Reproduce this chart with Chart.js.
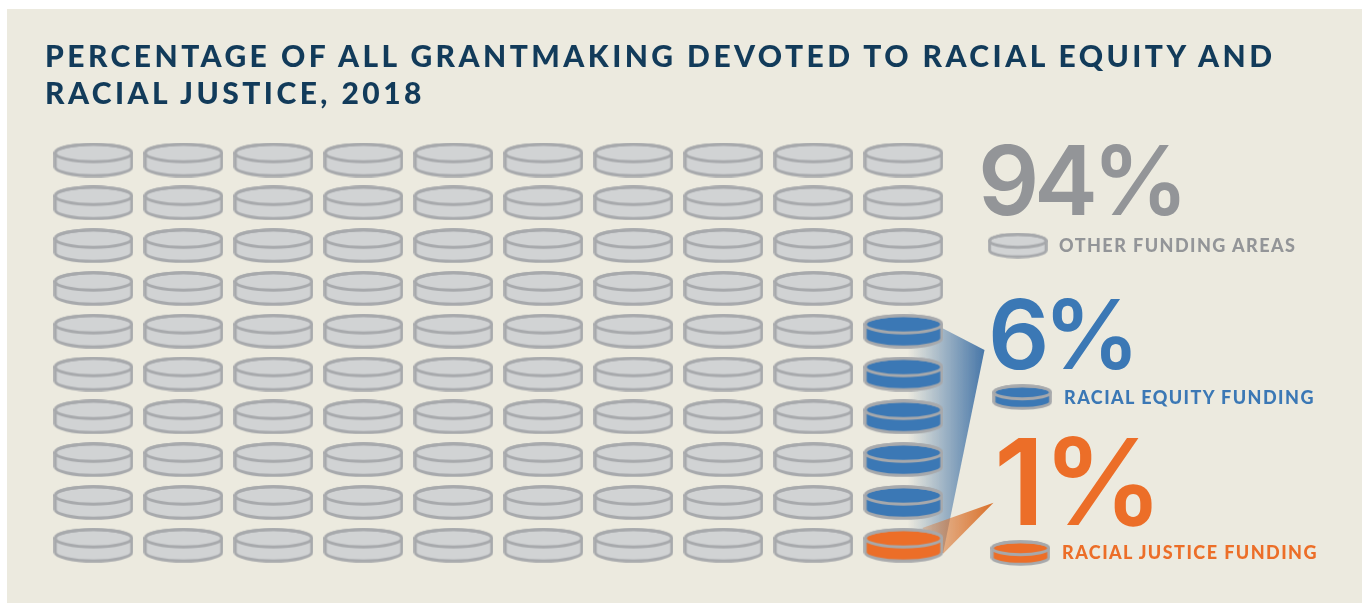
<!DOCTYPE html>
<html>
<head>
<meta charset="utf-8">
<style>
  html, body { margin: 0; padding: 0; background: #fff; overflow: hidden; }
  #page { position: relative; width: 1369px; height: 604px; font-family: Lato, sans-serif; }
  #panel { position: absolute; left: 7px; top: 9px; width: 1355px; height: 594px; background: #eceadf; }
  canvas { position: absolute; left: 0; top: 0; }
  .t { position: absolute; white-space: nowrap; line-height: 1; }
  #title { left: 45px; top: 37px; font-size: 30px; font-weight: 900; letter-spacing: 3.46px; line-height: 37px; color: #123b5a; white-space: normal; width: 1290px; }
</style>
</head>
<body>
<div id="page">
  <div id="panel"></div>
  <canvas id="chart" width="1369" height="604"></canvas>
  <div id="title" class="t">PERCENTAGE OF ALL GRANTMAKING DEVOTED TO RACIAL EQUITY AND RACIAL JUSTICE, 2018</div>
</div>
<script src="https://cdn.jsdelivr.net/npm/chart.js@4"></script>
<script>
// data
const categories = ['OTHER FUNDING AREAS', 'RACIAL EQUITY FUNDING', 'RACIAL JUSTICE FUNDING'];
const percentLabels = ['94%', '6%', '1%'];
const coinCounts = [94, 5, 1];
const columns = [1, 2, 3, 4, 5, 6, 7, 8, 9, 10];
const rows = [1, 2, 3, 4, 5, 6, 7, 8, 9, 10];

const colors = ['#d1d3d4', '#3b78b5', '#ec6e28'];
const textColors = ['#939598', '#3b78b5', '#ec6e28'];
const edge = '#a7a9ac';

// big number and legend text
const bigText = [
  { left: 978, top: 132, size: 96, spacing: -5.5 },
  { left: 988, top: 286, size: 96, spacing: -6 },
  { left: 994, top: 422, size: 120, spacing: -2 }
];
const smallText = [
  { left: 1059, top: 236, spacing: 1.45 },
  { left: 1064, top: 388, spacing: 1.45 },
  { left: 1062, top: 543, spacing: 1.45 }
];
const page = document.getElementById('page');
categories.forEach((name, i) => {
  const big = document.createElement('div');
  big.className = 't';
  big.textContent = percentLabels[i];
  big.style.cssText = `left:${bigText[i].left}px;top:${bigText[i].top}px;font-size:${bigText[i].size}px;font-family:Inter,sans-serif;font-weight:600;letter-spacing:${bigText[i].spacing}px;color:${textColors[i]}`;
  page.appendChild(big);
  const small = document.createElement('div');
  small.className = 't';
  small.textContent = name;
  small.style.cssText = `left:${smallText[i].left}px;top:${smallText[i].top}px;font-size:18px;font-weight:900;letter-spacing:${smallText[i].spacing}px;color:${textColors[i]}`;
  page.appendChild(small);
});

// one coin as a small canvas, used as point style
function coin(fill, w, h, lw) {
  const c = document.createElement('canvas');
  c.width = w;
  c.height = h;
  const g = c.getContext('2d');
  const rx = w / 2 - lw / 2 - 0.2;
  const ry = h * 0.25;
  const cx = w / 2;
  const top = lw / 2 + ry + 0.2;
  const bottom = h - lw / 2 - ry - 0.2;
  g.lineWidth = lw;
  g.strokeStyle = edge;
  g.fillStyle = fill;
  g.beginPath();
  g.ellipse(cx, top, rx, ry, 0, Math.PI, 0);
  g.lineTo(cx + rx, bottom);
  g.ellipse(cx, bottom, rx, ry, 0, 0, Math.PI);
  g.closePath();
  g.fill();
  g.stroke();
  g.beginPath();
  g.ellipse(cx, top, rx, ry, 0, 0, Math.PI * 2);
  g.stroke();
  return c;
}

// fill the grid column by column from the bottom right, orange first then blue then grey
const cells = [[], [], []];
let order = [2, 1, 0];
let left = coinCounts.slice();
for (let cIdx = columns.length - 1; cIdx >= 0; cIdx--) {
  for (let rIdx = rows.length - 1; rIdx >= 0; rIdx--) {
    while (left[order[0]] === 0) order.shift();
    cells[order[0]].push({ x: columns[cIdx], y: rows[rIdx] });
    left[order[0]]--;
  }
}

// the two fading wedges, in scale units
const wedges = [
  { pts: [[10, 4.46], [10.9, 5.44], [10.44, 10.18], [10, 10.18]], from: [10.05, 'rgba(62,112,165,0)'], to: [10.9, 'rgba(62,112,165,0.95)'] },
  { pts: [[10.21, 9.6], [11, 9.01], [10.44, 10.2]], from: [10.21, 'rgba(217,112,42,0.3)'], to: [11, 'rgba(217,112,42,1)'] }
];
const wedgePlugin = {
  id: 'wedges',
  beforeDatasetsDraw(chart) {
    const { ctx, scales } = chart;
    wedges.forEach(w => {
      const grad = ctx.createLinearGradient(scales.x.getPixelForValue(w.from[0]), 0, scales.x.getPixelForValue(w.to[0]), 0);
      grad.addColorStop(0, w.from[1]);
      grad.addColorStop(1, w.to[1]);
      ctx.save();
      ctx.fillStyle = grad;
      ctx.beginPath();
      w.pts.forEach((p, i) => {
        const px = scales.x.getPixelForValue(p[0]);
        const py = scales.y.getPixelForValue(p[1]);
        if (i === 0) ctx.moveTo(px, py); else ctx.lineTo(px, py);
      });
      ctx.closePath();
      ctx.fill();
      ctx.restore();
    });
  }
};

const keyCoins = colors.map(c => coin(c, 60, 26, 3));

new Chart(document.getElementById('chart'), {
  type: 'scatter',
  data: {
    datasets: [
      ...categories.map((name, i) => ({ label: name, data: cells[i], pointStyle: coin(colors[i], 80, 35, 3), clip: false })),
      // legend coins
      {
        label: 'key',
        data: [{ x: 11.27, y: 3 }, { x: 11.32, y: 6.54 }, { x: 11.3, y: 10.18 }],
        pointStyle: ctx => keyCoins[ctx.dataIndex],
        clip: false
      }
    ]
  },
  options: {
    responsive: false,
    animation: false,
    layout: { padding: { left: 48.5, right: 270.5, top: 138.6, bottom: 37.4 } },
    plugins: { legend: { display: false }, tooltip: { enabled: false } },
    scales: {
      x: { type: 'linear', display: false, min: 0.5, max: 12.1667 },
      y: { type: 'linear', display: false, min: 0.5, max: 10.5, reverse: true }
    }
  },
  plugins: [wedgePlugin]
});
</script>
</body>
</html>
